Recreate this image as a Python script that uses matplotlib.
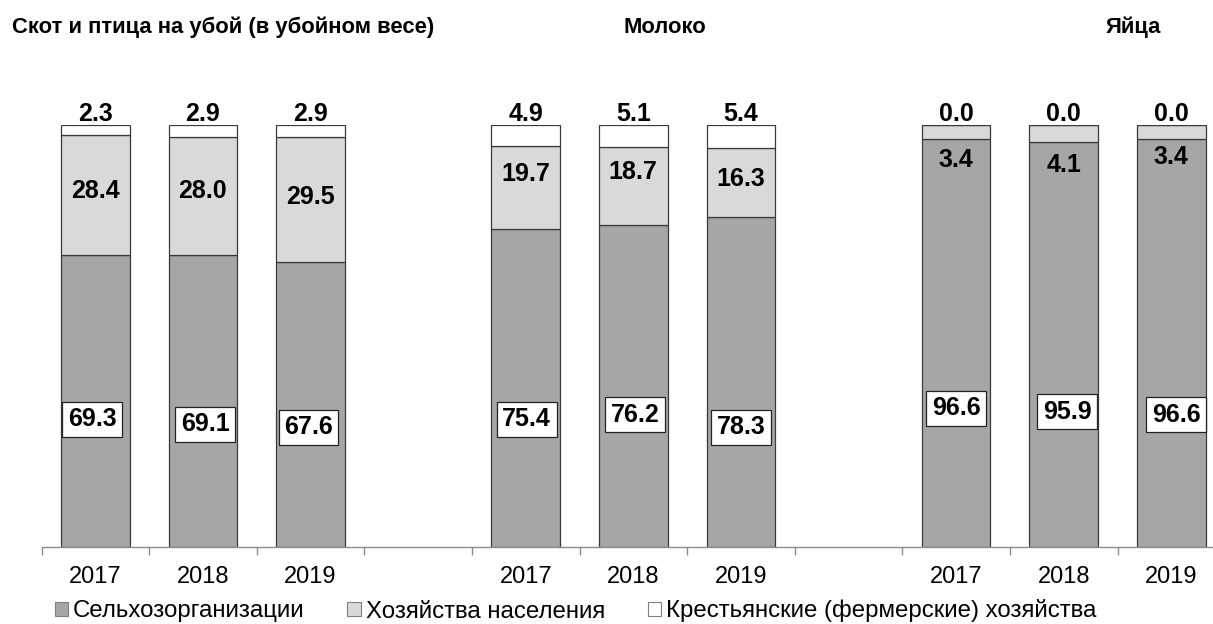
import matplotlib
matplotlib.use("Agg")
import matplotlib.pyplot as plt
from matplotlib.patches import Patch

plt.rcParams['font.family'] = ['Liberation Sans', 'DejaVu Sans']

# ---------------- data ----------------
years = ['2017', '2018', '2019']
groups = ['Скот и птица на убой (в убойном весе)', 'Молоко', 'Яйца']
series_names = ['Сельхозорганизации', 'Хозяйства населения',
                'Крестьянские (фермерские) хозяйства']
agri = [69.3, 69.1, 67.6, 75.4, 76.2, 78.3, 96.6, 95.9, 96.6]
house = [28.4, 28.0, 29.5, 19.7, 18.7, 16.3, 3.4, 4.1, 3.4]
farm = [2.3, 2.9, 2.9, 4.9, 5.1, 5.4, 0.0, 0.0, 0.0]

# ---------------- layout ----------------
slots = [0, 1, 2, 4, 5, 6, 8, 9, 10]
tick_labels = years + [''] + years + [''] + years
dark_label_y = [30.3, 29.1, 28.4, 30.3, 31.3, 28.4, 32.9, 32.0, 31.3]
dark_label_dx = [-0.028, 0.023, -0.019, 0.009, 0.014, 0.0, 0.0, 0.033, 0.046]
light_label_y = [84.4, 84.4, 82.9, 88.4, 88.9, 87.2, 91.7, 90.5, 92.4]
top_label_y = 102.6

c_dark = '#A6A6A6'
c_light = '#D9D9D9'
c_white = '#FFFFFF'
edge = '#3a3a3a'

W, H = 1213, 624
fig = plt.figure(figsize=(W / 100, H / 100), dpi=100)
ax_left = 41.5 / W
ax_bottom = 1 - 547 / H
ax_h = 422 / H
ax = fig.add_axes([ax_left, ax_bottom, 1 - ax_left, ax_h])

bw = 0.638
ax.bar(slots, agri, width=bw, color=c_dark, edgecolor=edge, linewidth=0.9, zorder=2)
ax.bar(slots, house, width=bw, bottom=agri, color=c_light, edgecolor=edge,
       linewidth=0.9, zorder=2)
bottoms3 = [a + h for a, h in zip(agri, house)]
ax.bar(slots, farm, width=bw, bottom=bottoms3, color=c_white, edgecolor=edge,
       linewidth=0.9, zorder=2)

ax.set_yticks([])
for s in ['left', 'right', 'top']:
    ax.spines[s].set_visible(False)
ax.spines['bottom'].set_color('#8c8c8c')
ax.spines['bottom'].set_linewidth(1.0)

ax.set_xticks(list(range(11)))
ax.set_xticks([i - 0.5 for i in range(12)], minor=True)
ax.set_xticklabels(tick_labels)
ax.tick_params(axis='x', which='major', length=0, pad=14, labelsize=17)
ax.tick_params(axis='x', which='minor', length=6, width=1.0, color='#8c8c8c',
               direction='out')
ax.set_ylim(0, 100)
ax.set_xlim(-0.5, -0.5 + (W - 41.5) / 107.6)

lab_kw = dict(ha='center', va='center', fontsize=18, fontweight='bold', zorder=5)
for i, x in enumerate(slots):
    ax.text(x + dark_label_dx[i], dark_label_y[i], f'{agri[i]:.1f}',
            bbox=dict(boxstyle='square,pad=0.22', fc='white', ec='#222222', lw=0.9),
            **lab_kw)
    ax.text(x, light_label_y[i], f'{house[i]:.1f}', **lab_kw)
    ax.text(x, top_label_y, f'{farm[i]:.1f}', clip_on=False, **lab_kw)

title_kw = dict(fontsize=15.8, fontweight='bold', va='baseline',
                family=['Liberation Sans', 'DejaVu Sans'])
fig.text(12 / W, 1 - 33 / H, groups[0], ha='left', **title_kw)
fig.text(665 / W, 1 - 33 / H, groups[1], ha='center', **title_kw)
fig.text(1133 / W, 1 - 33 / H, groups[2], ha='center', **title_kw)

handles = [Patch(facecolor=c, edgecolor='#7f7f7f', linewidth=0.8)
           for c in (c_dark, c_light, c_white)]
fig.legend(handles, series_names, loc='center', bbox_to_anchor=(575.5 / W, 1 - 611 / H),
           ncol=3, frameon=False, fontsize=17.3, handlelength=0.55, handleheight=0.55,
           handletextpad=0.2, columnspacing=1.8, borderpad=0, borderaxespad=0)

fig.savefig('out.png', dpi=100)
